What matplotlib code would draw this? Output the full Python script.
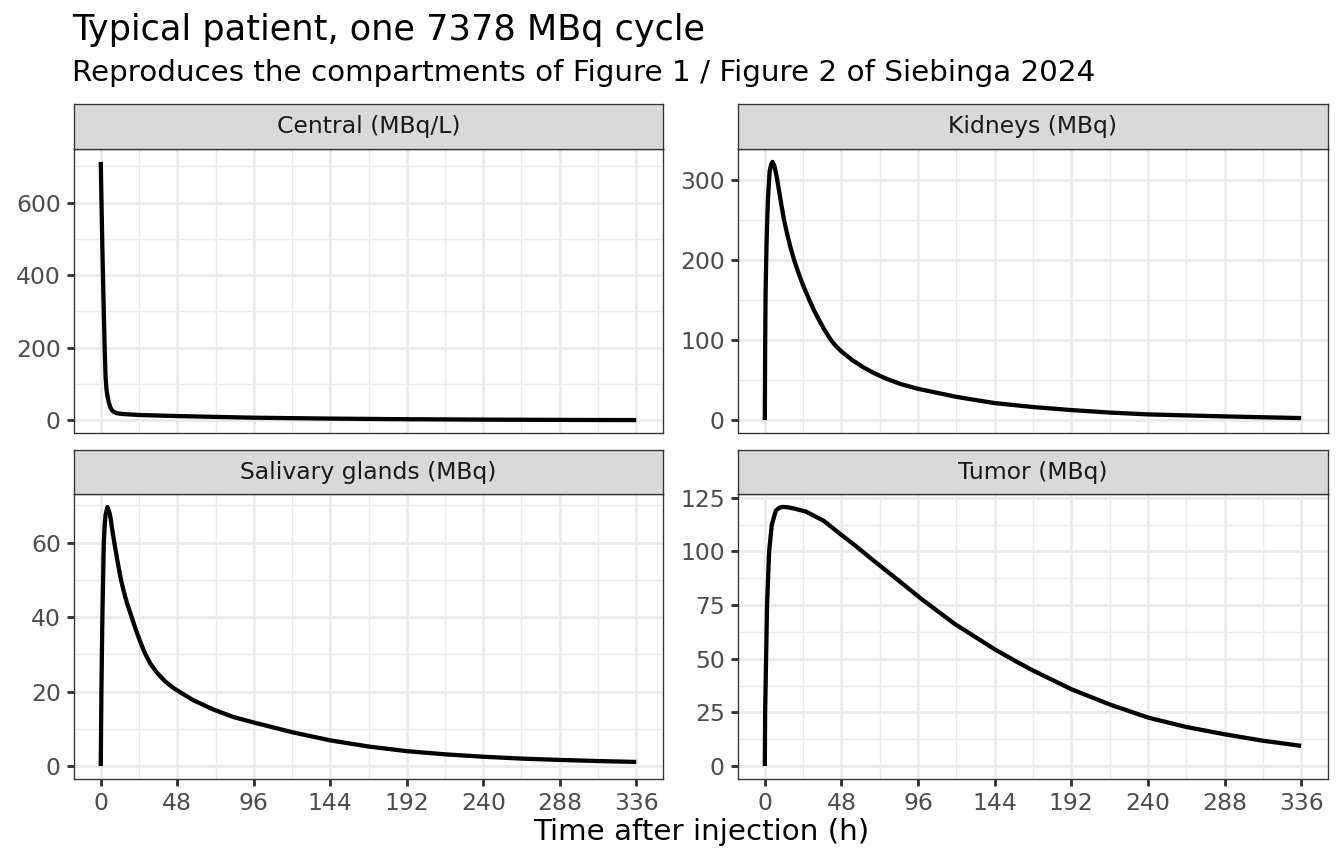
import matplotlib
matplotlib.use("Agg")
from matplotlib import pyplot as plt

plt.rcParams['font.family'] = ['DejaVu Sans']

# values
central_t = [0, 0.5, 1, 1.5, 2, 2.5, 3, 3.5, 4, 5, 6, 7, 8, 10, 12, 16, 24, 48, 96, 144, 192, 240, 288, 336]
central_v = [712, 590, 475, 375, 280, 190, 120, 90, 72, 50, 36, 28, 24, 20, 18.5, 17, 15, 12, 7.5, 5, 3.3, 2.2, 1.4, 0.9]

kidney_t = [0, 0.2, 0.5, 1, 1.5, 2, 3, 4, 4.8, 6, 7.5, 9, 10.5, 12, 14, 16, 18.3, 21, 24, 27.7, 31, 35, 38,
            41.2, 44, 48, 55, 62, 69, 76, 85, 96, 108, 120, 132, 144, 168, 192, 216, 240, 288, 336]
kidney_v = [0, 88, 160, 213, 250, 277, 310, 319, 322, 317, 303, 285, 267, 250, 232, 216, 200, 184, 168, 150.5, 136, 121, 110.5,
            100.5, 93.5, 85.5, 74.5, 65.5, 58, 51.7, 45, 39, 34, 29, 25, 21.2, 16.3, 12.5, 9.4, 7.1, 4.6, 2.5]

saliv_t = [0, 0.4, 1, 1.9, 2.5, 3, 4.2, 5.5, 6.2, 7, 8.5, 10.5, 12.7, 14.5, 16.5, 19.4, 22, 24.5, 27.7, 31, 35,
           40, 44.5, 49.5, 58, 70, 83, 96, 108, 120, 144, 168, 192, 216, 240, 264, 288, 312, 336]
saliv_v = [0, 20, 40, 60, 65, 67.5, 69.6, 68, 66.5, 64, 60, 55, 50, 46.8, 43.7, 40, 36.6, 33.7, 30.3, 27.6, 25.2,
           22.9, 21.3, 19.9, 17.7, 15.3, 13.2, 11.7, 10.4, 9.1, 6.9, 5.25, 4.0, 3.15, 2.5, 2.0, 1.65, 1.35, 1.1]

tumor_t = [0, 0.2, 0.8, 1.4, 2.7, 4.4, 6.9, 9, 11, 14, 18, 25.6, 31, 37, 46.4, 57, 67.3, 82, 98.5, 119, 130, 144, 156,
           168, 192, 216, 240, 264, 288, 312, 336]
tumor_v = [0, 25, 50, 75, 100, 112.5, 119, 120.3, 120.7, 120.6, 120, 118.6, 116.5, 114.2, 108.6, 102.5, 96.2, 87.5, 77.6, 66.2, 61, 54.4, 49.3,
           44.5, 35.8, 28.7, 22.6, 18.2, 14.8, 11.8, 9.4]

panel_names = ["Central (MBq/L)", "Kidneys (MBq)", "Salivary glands (MBq)", "Tumor (MBq)"]
y_breaks = [[0, 200, 400, 600], [0, 100, 200, 300], [0, 20, 40, 60], [0, 25, 50, 75, 100, 125]]
y_minor = [[100, 300, 500, 700], [50, 150, 250], [10, 30, 50, 70], [12.5, 37.5, 62.5, 87.5, 112.5]]
x_breaks = [0, 48, 96, 144, 192, 240, 288, 336]
x_minor = [24, 72, 120, 168, 216, 264, 312]

series = [(central_t, central_v), (kidney_t, kidney_v), (saliv_t, saliv_v), (tumor_t, tumor_v)]

W, H = 1344, 864
fig = plt.figure(figsize=(7, 4.5), dpi=192)

grey20 = '#333333'
lw_border = 0.5

# panel boxes in pixels: (left, right) and (strip top, panel top, panel bottom)
cols = [(74, 663), (738, 1328)]
rows = [(104, 149, 433), (450, 494, 779)]

for k, (name, (t, v)) in enumerate(zip(panel_names, series)):
    r, c = divmod(k, 2)
    x0, x1 = cols[c]
    st, pt, pb = rows[r]
    ax = fig.add_axes([x0 / W, 1 - pb / H, (x1 - x0) / W, (pb - pt) / H])
    sx = fig.add_axes([x0 / W, 1 - pt / H, (x1 - x0) / W, (pt - st) / H])

    ax.plot(t, v, color='black', lw=1.6, solid_capstyle='butt', solid_joinstyle='round', zorder=3)

    ymax = max(v)
    ymin = min(v)
    pad = (ymax - ymin) * 0.05
    ax.set_ylim(ymin - pad, ymax + pad)
    ax.set_xlim(-336 * 0.05, 336 * 1.05)

    ax.set_yticks(y_breaks[k])
    ax.set_yticks(y_minor[k], minor=True)
    ax.set_xticks(x_breaks)
    ax.set_xticks(x_minor, minor=True)
    ax.grid(True, which='major', color='#EBEBEB', lw=1.07)
    ax.grid(True, which='minor', color='#EBEBEB', lw=0.53)
    ax.set_axisbelow(True)
    ax.tick_params(which='major', length=2.75, width=1.07, color=grey20,
                   labelsize=8.8, labelcolor='#4D4D4D', pad=2.2)
    ax.tick_params(which='minor', length=0)
    if r == 0:
        ax.tick_params(axis='x', which='major', labelbottom=False, length=0)
    for s in ax.spines.values():
        s.set_color(grey20)
        s.set_linewidth(lw_border)

    sx.set_facecolor('#D9D9D9')
    sx.set_xticks([])
    sx.set_yticks([])
    for s in sx.spines.values():
        s.set_color(grey20)
        s.set_linewidth(lw_border)
    sx.text(0.5, 0.5, name, ha='center', va='center', fontsize=8.8,
            color='#1A1A1A', transform=sx.transAxes)

fig.text(72 / W, 1 - 30 / H, "Typical patient, one 7378 MBq cycle", fontsize=13.2,
         ha='left', va='center', color='black')
fig.text(72 / W, 1 - 73 / H, "Reproduces the compartments of Figure 1 / Figure 2 of Siebinga 2024",
         fontsize=11, ha='left', va='center', color='black')
fig.text((74 + 1328) / 2 / W, 1 - 832 / H, "Time after injection (h)", fontsize=11,
         ha='center', va='center', color='black')

fig.savefig("out.png", dpi=192)
